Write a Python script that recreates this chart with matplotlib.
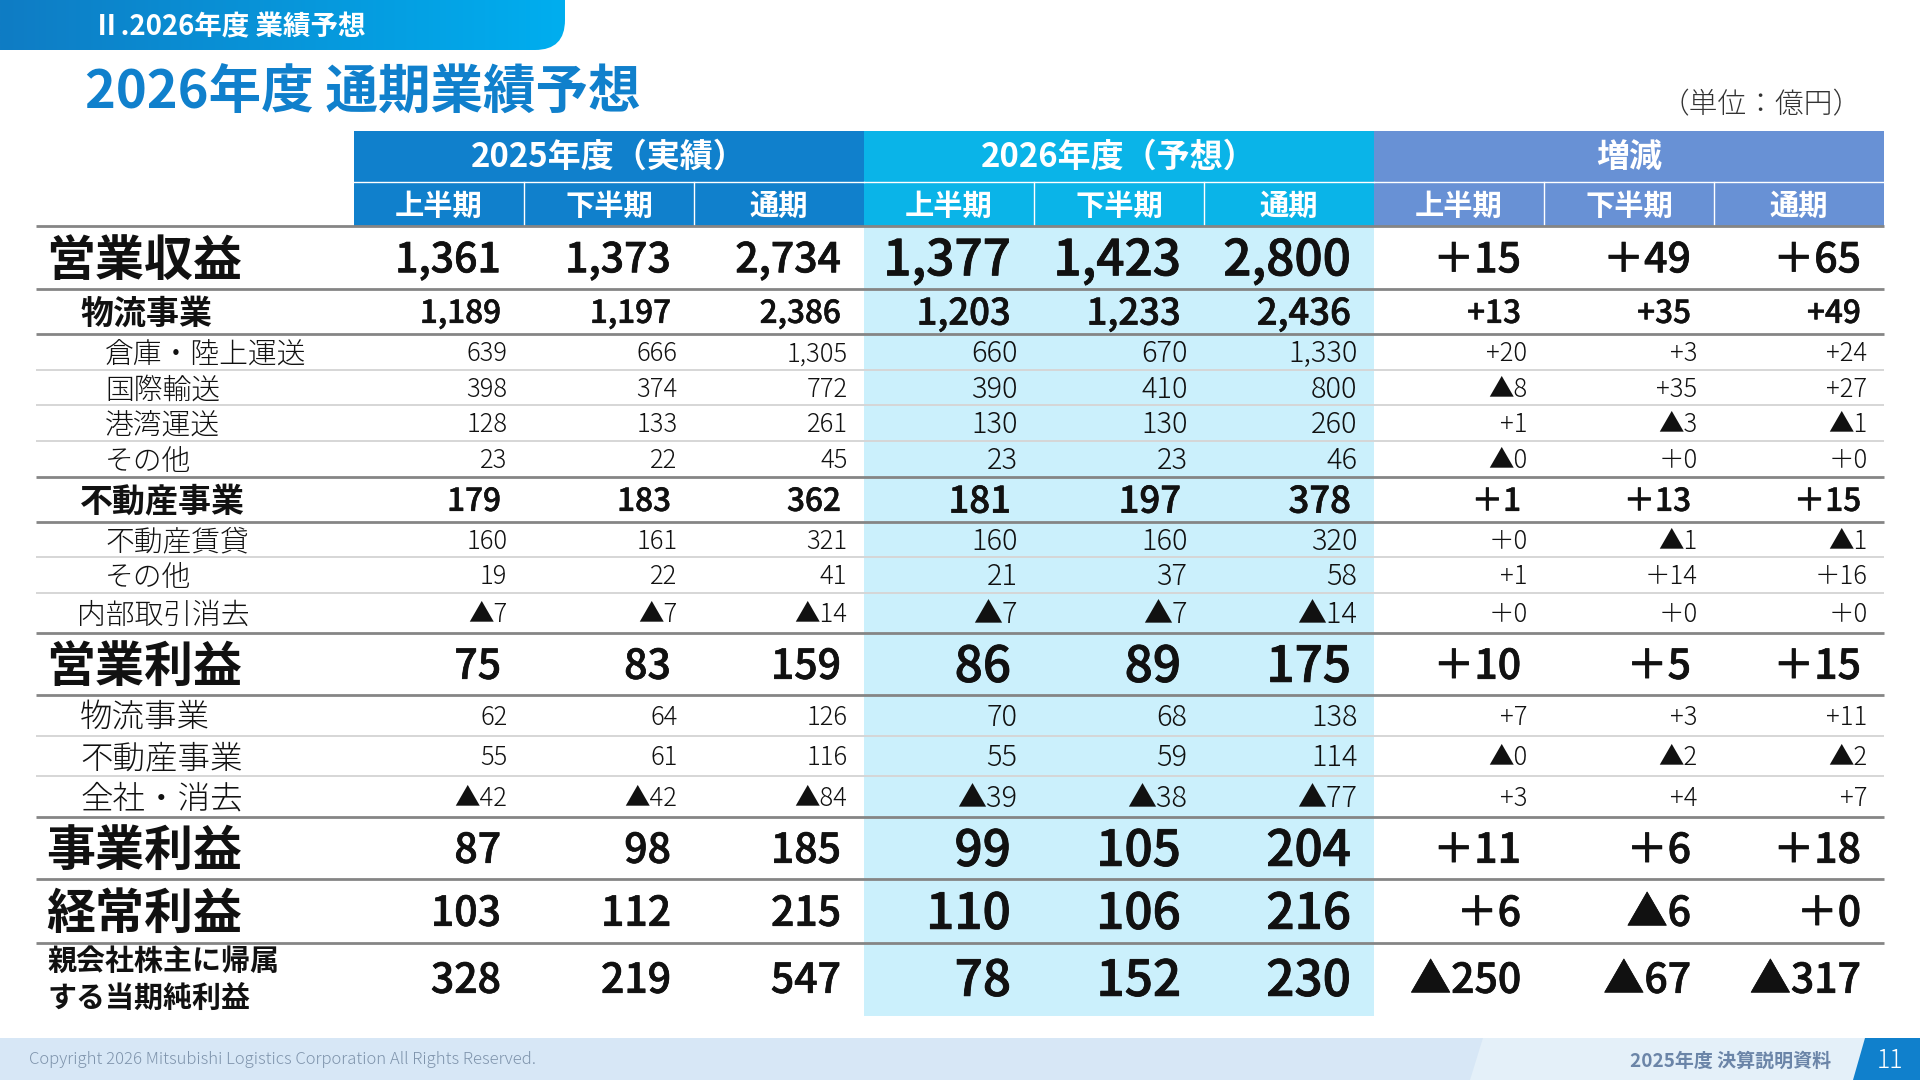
import numpy as np
import matplotlib
matplotlib.use("Agg")
import matplotlib.pyplot as plt
import matplotlib.patheffects as pe
from matplotlib.patches import Rectangle, Polygon, PathPatch
from matplotlib.path import Path

plt.rcParams['font.family'] = ['Noto Sans CJK JP', 'DejaVu Sans']

# ---------- data ----------
row_labels = ["営業収益", "物流事業", "倉庫・陸上運送", "国際輸送", "港湾運送", "その他",
              "不動産事業", "不動産賃貸", "その他", "内部取引消去",
              "営業利益", "物流事業", "不動産事業", "全社・消去",
              "事業利益", "経常利益", "親会社株主に帰属\nする当期純利益"]
row_kinds = ["major", "seg", "sub", "sub", "sub", "sub",
             "seg", "sub", "sub", "elim",
             "major", "seg2", "seg2", "seg2",
             "major", "major", "net"]
fy25_h1 = ["1,361", "1,189", "639", "398", "128", "23", "179", "160", "19", "▲7", "75", "62", "55", "▲42", "87", "103", "328"]
fy25_h2 = ["1,373", "1,197", "666", "374", "133", "22", "183", "161", "22", "▲7", "83", "64", "61", "▲42", "98", "112", "219"]
fy25_fy = ["2,734", "2,386", "1,305", "772", "261", "45", "362", "321", "41", "▲14", "159", "126", "116", "▲84", "185", "215", "547"]
fy26_h1 = ["1,377", "1,203", "660", "390", "130", "23", "181", "160", "21", "▲7", "86", "70", "55", "▲39", "99", "110", "78"]
fy26_h2 = ["1,423", "1,233", "670", "410", "130", "23", "197", "160", "37", "▲7", "89", "68", "59", "▲38", "105", "106", "152"]
fy26_fy = ["2,800", "2,436", "1,330", "800", "260", "46", "378", "320", "58", "▲14", "175", "138", "114", "▲77", "204", "216", "230"]
chg_h1 = ["＋15", "+13", "+20", "▲8", "+1", "▲0", "＋1", "＋0", "+1", "＋0", "＋10", "+7", "▲0", "+3", "＋11", "＋6", "▲250"]
chg_h2 = ["＋49", "+35", "+3", "+35", "▲3", "＋0", "＋13", "▲1", "＋14", "＋0", "＋5", "+3", "▲2", "+4", "＋6", "▲6", "▲67"]
chg_fy = ["＋65", "+49", "+24", "+27", "▲1", "＋0", "＋15", "▲1", "＋16", "＋0", "＋15", "+11", "▲2", "+7", "＋18", "＋0", "▲317"]
columns = [fy25_h1, fy25_h2, fy25_fy, fy26_h1, fy26_h2, fy26_fy, chg_h1, chg_h2, chg_fy]
groups = ["2025年度（実績）", "2026年度（予想）", "増減"]
periods = ["上半期", "下半期", "通期"]

# ---------- layout (pixels) ----------
W, H = 1920, 1080
TBL_L, COL0, COLW = 36, 354, 170
EDGES = [226, 289, 334, 370, 405, 441, 477, 522, 557, 593, 633, 695, 736, 776, 817, 879, 943, 1016]
STRONG = {226, 289, 334, 477, 522, 633, 695, 817, 879, 943}
BLUE, CYAN, PERI = "#1080CC", "#0AB4E8", "#6891D5"
GROUP_COL = [BLUE, CYAN, PERI]
INK = "#111111"
FF = ['Noto Sans CJK JP', 'DejaVu Sans']

# kind -> (label x, label px, label weight, past px, fcst px, weight, inset)
STY = {
    "major": (46.5, 49, 700, 41, 49.5, 500, 23),
    "seg":   (80, 33, 700, 31.5, 36.5, 500, 23),
    "seg2":  (80, 32.5, 300, 25.5, 29, 300, 16.5),
    "sub":   (105, 28.8, 300, 25.5, 29, 300, 16.5),
    "elim":  (77, 28.8, 300, 25.5, 29, 300, 16.5),
    "net":   (47, 29, 700, 41, 49.5, 500, 23),
}
PX = 0.72  # points per pixel at dpi 100

fig = plt.figure(figsize=(19.2, 10.8), dpi=100)
ax = fig.add_axes([0, 0, 1, 1])
ax.set_axis_off()


def T(x, y, s, px, color=INK, weight=400, ha="left", zorder=5, thicken=False):
    t = ax.text(x, y, s, fontsize=px * PX, color=color, weight=weight, ha=ha,
                va="baseline", family=FF, zorder=zorder)
    if thicken:
        t.set_path_effects([pe.withStroke(linewidth=0.012 * px, foreground=color)])
    return t


def gradient(clip, extent, c0, c1, z=1):
    a, b = np.array(matplotlib.colors.to_rgb(c0)), np.array(matplotlib.colors.to_rgb(c1))
    t = np.linspace(0, 1, 256)[None, :, None]
    im = ax.imshow(a + (b - a) * t, extent=extent, aspect="auto", zorder=z)
    im.set_clip_path(clip)


# banner
r = 30
verts = [(0, 0), (565, 0), (565, 50 - r), (565, 50), (565 - r, 50), (0, 50), (0, 0)]
codes = [Path.MOVETO, Path.LINETO, Path.LINETO, Path.CURVE3, Path.CURVE3, Path.LINETO, Path.CLOSEPOLY]
ban = PathPatch(Path(verts, codes), fc="none", ec="none", transform=ax.transData)
ax.add_patch(ban)
gradient(ban, (0, 565, 50, 0), "#0F7CC4", "#00AEEF")
T(93, 35, "Ⅱ.2026年度 業績予想", 27.5, "white", 700)
T(85, 109, "2026年度 通期業績予想", 52.5, "#1080CC", 700)
T(1862, 113, "（単位：億円）", 28.7, "#333333", 300, ha="right")

# forecast shade
ax.add_patch(Rectangle((COL0 + 3 * COLW, 226), 3 * COLW, 1016 - 226, fc="#CBF0FC", ec="none", zorder=1))

# header
for g, name in enumerate(groups):
    x0 = COL0 + 3 * g * COLW
    c = GROUP_COL[g]
    ax.add_patch(Rectangle((x0, 131), 3 * COLW, 95, fc=c, ec="none", zorder=2))
    T(x0 + 1.5 * COLW, 167, name, 33, "white", 700, ha="center")
    for p, pname in enumerate(periods):
        T(x0 + (p + .5) * COLW, 214.5, pname, 29.3, "white", 700, ha="center")
        if p:
            ax.plot([x0 + p * COLW] * 2, [182, 226], color="white", lw=1, zorder=3)
    ax.plot([x0, x0 + 3 * COLW], [182, 182], color="white", lw=1, zorder=3)

# table rules
for y in EDGES[:-1]:
    strong = y in STRONG
    ax.plot([TBL_L, COL0 + 9 * COLW], [y, y], color="#858585" if strong else "#D6D6D6",
            lw=2.0 if strong else 1.4, zorder=3, solid_capstyle="butt")

# rows
for i, (lab, kind) in enumerate(zip(row_labels, row_kinds)):
    lx, lpx, lw_, ppx, fpx, w, inset = STY[kind]
    y0, y1 = EDGES[i], EDGES[i + 1]
    if kind == "net":
        y1_c = 978
    else:
        y1_c = (y0 + y1) / 2
    if "\n" in lab:
        a, b = lab.split("\n")
        T(lx, 970, a, lpx, INK, lw_)
        T(lx, 1007, b, lpx, INK, lw_)
    else:
        T(lx, y1_c + .37 * lpx, lab, lpx, INK, lw_)
    for c, col in enumerate(columns):
        px = fpx if 3 <= c < 6 else ppx
        xr = COL0 + (c + 1) * COLW - inset
        T(xr, y1_c + .36 * px, col[i], px, INK, w, ha="right", thicken=w >= 500)

# footer
ax.add_patch(Rectangle((0, 1038), 1920, 42, fc="#D7E7F6", ec="none", zorder=1))
ax.add_patch(Polygon([(1483, 1038), (1866, 1038), (1853, 1080), (1470, 1080)], fc="#E4F0F9", ec="none", zorder=2))
ax.add_patch(Polygon([(1865, 1038), (1920, 1038), (1920, 1080), (1853, 1080)], fc=BLUE, ec="none", zorder=3))
T(29, 1064, "Copyright 2026 Mitsubishi Logistics Corporation All Rights Reserved.", 16.7, "#7F94AC", 300)
T(1831, 1067, "2025年度 決算説明資料", 19, "#6B85A8", 700, ha="right")
T(1890, 1068, "11", 25, "white", 300, ha="center")

ax.set_xlim(0, W)
ax.set_ylim(H, 0)
fig.savefig("out.png", dpi=100, facecolor="white")
